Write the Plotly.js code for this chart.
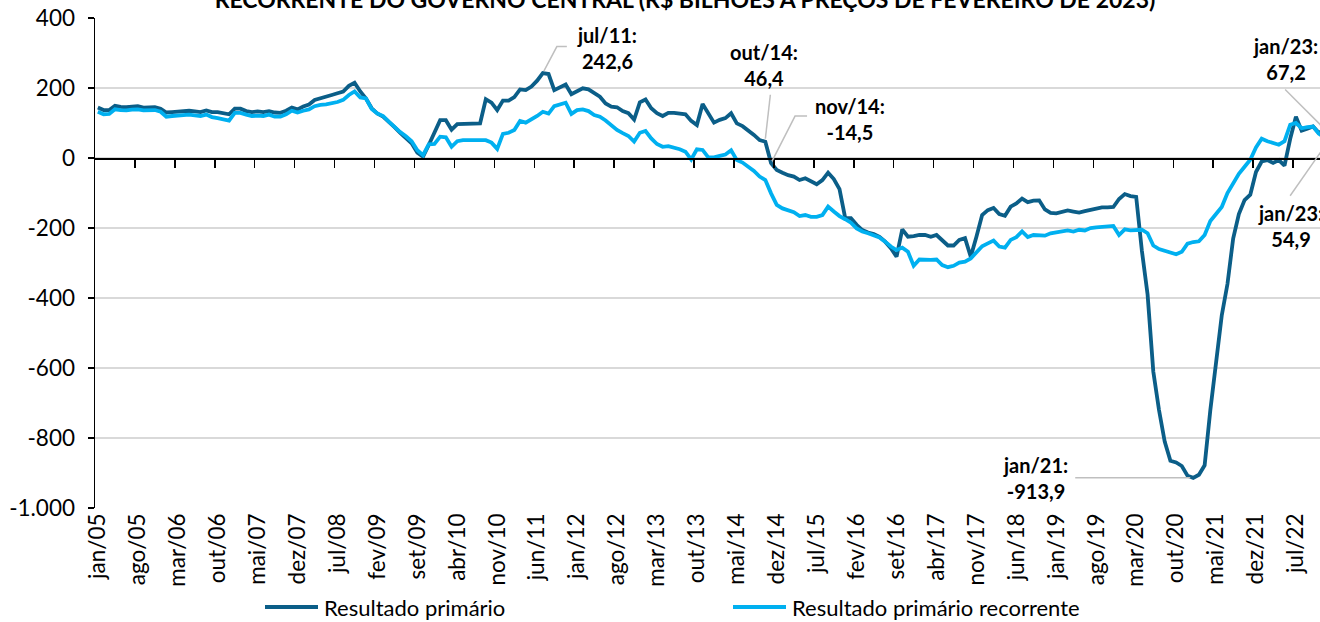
<!DOCTYPE html>
<html>
<head>
<meta charset="utf-8">
<script src="https://cdn.plot.ly/plotly-3.0.1.min.js"></script>
<style>
html,body{margin:0;padding:0;overflow:hidden;background:#fff;}
#chart{width:1340px;height:622px;}
</style>
</head>
<body>
<div id="chart"></div>
<script>
// ---------- DATA ----------
const chartTitle = "RECORRENTE DO GOVERNO CENTRAL (R$ BILHÕES A PREÇOS DE FEVEREIRO DE 2023)";
const seriesNames = ["Resultado primário", "Resultado primário recorrente"];
const monthNames = ["jan","fev","mar","abr","mai","jun","jul","ago","set","out","nov","dez"];
const firstYear = 2005, lastYear = 2023, lastMonthOfLastYear = 0;

// Resultado primário (12 meses, R$ bilhões, jan/05 .. jan/23)
const resultadoPrimario = [
 144,137,137,149,146,145,147,148,144,144,145,141,
 130,131,133,135,135,133,131,136,131,131,127,125,
 141,141,134,131,133,131,134,130,129,135,144,139,
 147,153,166,170,175,180,185,190,206,215,190,170,
 142,127,118,104,88,72,58,42,15,4,37,72,
 108,108,81,97,97,99,97,99,168,158,137,164,
 164,174,196,194,204,221,242.6,240,194,202,210,182,
 192,199,196,187,175,156,147,145,134,128,110,159,
 167,142,128,120,129,129,128,125,106,94,154,128,
 101,109,114,128,99,91,80,66,51,46.4,-14.5,-34,
 -42,-49,-53,-63,-58,-68,-75,-63,-42,-60,-89,-172,
 -172,-191,-206,-213,-217,-225,-239,-258,-282,-204,-225,-223,
 -220,-220,-225,-220,-236,-250,-250,-234,-229,-282,-225,-163,
 -149,-143,-160,-165,-139,-130,-116,-126,-122,-121,-147,-157,
 -158,-155,-150,-153,-156,-152,-149,-145,-141,-141,-140,-117,
 -103,-109,-111,-265,-390,-610,-720,-810,-865,-870,-880,-908,
 -913.9,-905,-878,-720,-590,-450,-360,-230,-160,-120,-105,-40,
 -10,-6,-14,-6,-22,55,118,78,84,90,72,78,
 67.2
];
// Resultado primário recorrente
const resultadoRecorrente = [
 132,125,126,139,137,136,138,139,136,136,137,132,
 118,120,122,124,124,122,120,124,117,114,111,107,
 129,129,124,120,121,120,124,118,118,125,135,130,
 135,139,148,152,153,156,160,166,180,190,173,170,
 140,127,120,104,88,74,62,48,22,8,39,40,
 61,59,32,48,51,51,49,49,51,44,26,69,
 72,80,106,101,109,120,132,127,148,153,158,126,
 137,139,134,123,118,107,94,80,71,63,47,72,
 77,56,40,32,34,30,25,18,-4,25,23,2,
 2,6,10,22,-6,-13,-25,-37,-53,-63,-101,-134,
 -144,-150,-155,-166,-163,-168,-168,-163,-139,-153,-166,-175,
 -185,-201,-210,-215,-220,-227,-239,-253,-263,-256,-268,-308,
 -290,-291,-291,-290,-306,-312,-308,-299,-296,-287,-268,-252,
 -244,-236,-253,-256,-234,-226,-210,-226,-220,-222,-222,-215,
 -212,-210,-207,-210,-205,-207,-200,-198,-196,-196,-194,-220,
 -204,-207,-205,-205,-215,-250,-260,-265,-270,-275,-268,-245,
 -240,-238,-220,-180,-160,-140,-100,-75,-45,-25,-5,30,
 55,48,42,38,48,95,100,85,88,90,70,58,
 54.9
];
const yTickVals = [-1000,-800,-600,-400,-200,0,200,400];
const yTickText = ["-1.000","-800","-600","-400","-200","0","200","400"];
// highlighted points: [series, month label]
const highlights = [
 {s:0, m:"jul/11"}, {s:0, m:"out/14"}, {s:0, m:"nov/14"},
 {s:0, m:"jan/21"}, {s:0, m:"jan/23"}, {s:1, m:"jan/23"}
];

// ---------- BUILD ----------
const months = [];
for (let y = firstYear; y <= lastYear; y++) {
  for (let m = 0; m < 12; m++) {
    if (y === lastYear && m > lastMonthOfLastYear) break;
    months.push(monthNames[m] + "/" + String(y).slice(2));
  }
}
const idx = months.map((_, i) => i);
const tickStep = 7;
const xTickVals = idx.filter(i => i % tickStep === 0);
const xTickText = xTickVals.map(i => months[i]);
const boundaryTicks = [];
for (let k = tickStep - 0.5; k < months.length; k += tickStep) boundaryTicks.push(k);

const FONT = "Lato, 'Open Sans', sans-serif";
const DARK = "#0B5E88", LIGHT = "#00B0F0", LEADER = "#BFBFBF";
const W = 1340, H = 622, ML = 95, MR = 7, MT = 18, MB = 114;
const PW = W - ML - MR, PH = H - MT - MB;
const px2x = p => (p - ML) / PW;
const py2y = p => 1 - (p - MT) / PH;

const fmt = v => {
  const s = Number.isInteger(v) ? v.toFixed(1) : String(v);
  return s.replace(".", ",");
};
const series = [resultadoPrimario, resultadoRecorrente];

const traces = [
  {x: idx, y: resultadoPrimario, xaxis: "x", yaxis: "y", type: "scatter", mode: "lines",
   name: seriesNames[0], line: {color: DARK, width: 3.8}, showlegend: false, hoverinfo: "skip"},
  {x: idx, y: resultadoRecorrente, xaxis: "x", yaxis: "y", type: "scatter", mode: "lines",
   name: seriesNames[1], line: {color: LIGHT, width: 3.8}, showlegend: false, hoverinfo: "skip"},
  {x: [], y: [], xaxis: "x2", yaxis: "y", type: "scatter", mode: "lines", showlegend: false, hoverinfo: "skip"}
];

// label placement (pixel offsets from the point) and leader paths (pixels, up = +)
const labelPlacement = [
  {dx: 64, dy: 24.6, path: "M1,2 L14,26.5 L24,26.5"},
  {dx: -1, dy: 77, path: "M0,3 L5,47"},
  {dx: 79, dy: 44, path: "M1,2 L24,47 L36,47"},
  {dx: -158, dy: 0, path: "M-3,0 L-118,0"},
  {dx: -45, dy: 75.5, path: "M-3,3 L-45,45"},
  {dx: -40, dy: -87, path: "M-3,-4 L-40,-57"}
];

const annotations = [];
const shapes = [];
highlights.forEach((h, k) => {
  const i = months.indexOf(h.m);
  const v = series[h.s][i];
  const p = labelPlacement[k];
  annotations.push({
    xref: "x", yref: "y", x: i, y: v, xshift: p.dx, yshift: p.dy,
    text: "<b>" + h.m + ":<br>" + fmt(v) + "</b>", showarrow: false,
    xanchor: "center", yanchor: "middle", align: "center",
    font: {family: FONT, size: 20, color: "#000"}
  });
  shapes.push({
    type: "path", xref: "x", yref: "y", xsizemode: "pixel", ysizemode: "pixel",
    xanchor: i, yanchor: v, path: p.path, line: {color: LEADER, width: 1.5}
  });
});

// custom legend
const legendItems = [
  {x0: 265, x1: 318, tx: 322, color: DARK, name: seriesNames[0]},
  {x0: 733, x1: 786, tx: 790, color: LIGHT, name: seriesNames[1]}
];
const legendY = 607;
legendItems.forEach(it => {
  shapes.push({type: "line", xref: "paper", yref: "paper",
    x0: px2x(it.x0), x1: px2x(it.x1), y0: py2y(legendY), y1: py2y(legendY),
    line: {color: it.color, width: 3.8}});
  annotations.push({xref: "paper", yref: "paper", x: px2x(it.tx), y: py2y(legendY),
    xanchor: "left", yanchor: "middle", showarrow: false, text: it.name,
    font: {family: FONT, size: 22, color: "#000"}});
});

const layout = {
  width: W, height: H,
  margin: {l: ML, r: MR, t: MT, b: MB, pad: 0},
  paper_bgcolor: "#fff", plot_bgcolor: "#fff",
  showlegend: false,
  font: {family: FONT, size: 21, color: "#000"},
  title: {text: "<b>" + chartTitle + "</b>", x: 685 / W, xref: "container", xanchor: "center",
          y: 1, yref: "container", yanchor: "middle",
          font: {family: FONT, size: 23, color: "#000"}},
  xaxis: {type: "linear", range: [-0.5, months.length - 0.5],
          tickmode: "array", tickvals: xTickVals, ticktext: xTickText, tickangle: -90,
          showgrid: false, zeroline: false, showline: false, ticks: "",
          tickfont: {family: FONT, size: 22.5, color: "#000"}, fixedrange: true},
  xaxis2: {type: "linear", overlaying: "x", anchor: "free", position: 1000 / 1400,
           range: [-0.5, months.length - 0.5], tickmode: "array", tickvals: boundaryTicks,
           ticks: "outside", ticklen: 8, tickwidth: 1.5, tickcolor: "#000",
           showticklabels: false, showgrid: false, zeroline: false,
           showline: true, linecolor: "#000", linewidth: 1.5, fixedrange: true},
  yaxis: {range: [-1000, 400], tickmode: "array", tickvals: yTickVals, ticktext: yTickText,
          showgrid: true, gridcolor: "#D9D9D9", gridwidth: 1.5, zeroline: false,
          showline: true, linecolor: "#000", linewidth: 1.5,
          ticks: "outside", ticklen: 6, tickwidth: 1.5, tickcolor: "#000",
          ticklabelstandoff: 8,
          tickfont: {family: FONT, size: 22.5, color: "#000"}, fixedrange: true},
  annotations: annotations,
  shapes: shapes
};

Plotly.newPlot("chart", traces, layout, {staticPlot: true, displayModeBar: false});
</script>
</body>
</html>
